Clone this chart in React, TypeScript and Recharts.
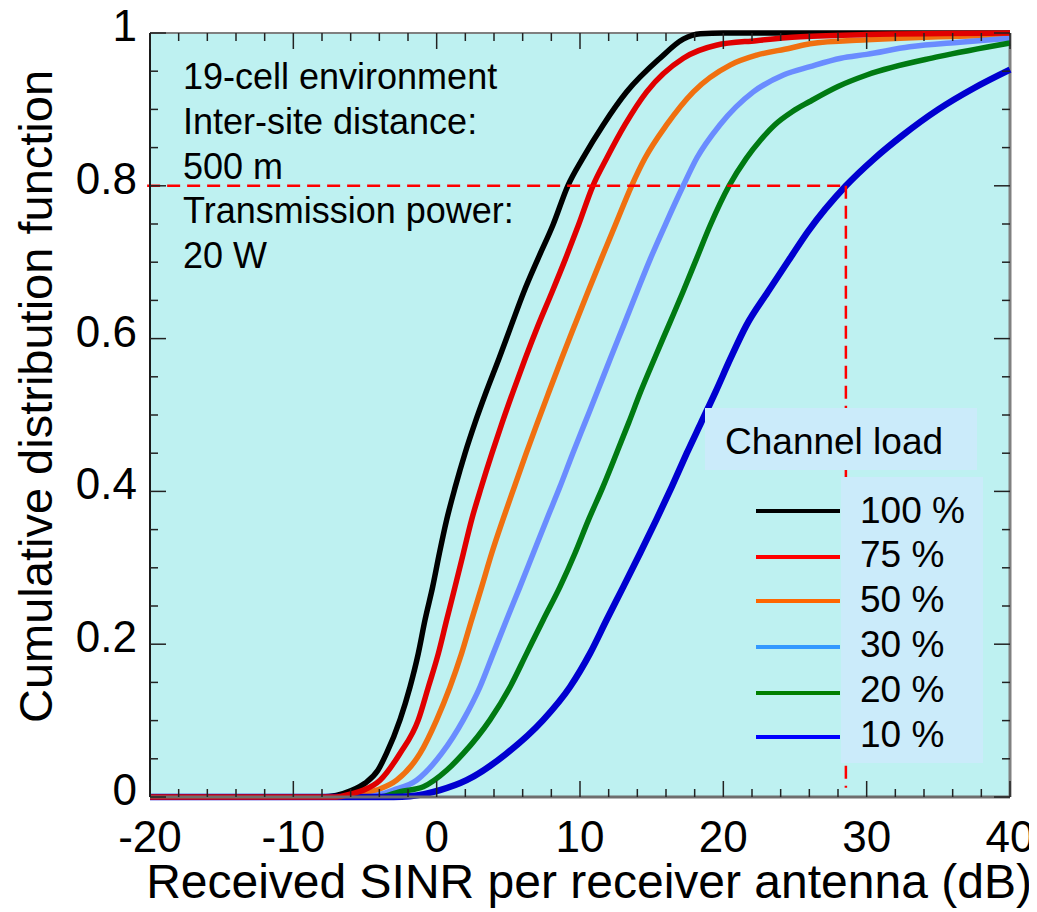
import React from 'react';
import { LineChart, Line, XAxis, YAxis, ReferenceLine, CartesianGrid } from 'recharts';

// ---- data ----
const SINR_100 = [-20, -8, -7, -6, -5, -4.1, -3.5, -2.56, -1.86, -1.28, -0.81, -0.28, 0.19, 0.7, 1.3, 1.98, 2.68, 3.45, 4.35, 5.2, 6.08, 7.08, 8.12, 9.15, 10.19, 11.63, 13.26, 15.58, 17.2, 18.4, 20, 40];
const CDF_100 = [0, 0, 0.002, 0.008, 0.018, 0.035, 0.057, 0.101, 0.144, 0.188, 0.232, 0.275, 0.319, 0.363, 0.406, 0.45, 0.49, 0.53, 0.574, 0.617, 0.661, 0.705, 0.749, 0.8, 0.836, 0.88, 0.923, 0.967, 0.992, 0.999, 1, 1];

const SINR_75 = [-20, -7, -6, -5.1, -3.95, -2.56, -1.28, -0.58, 0.12, 0.7, 1.28, 1.86, 2.44, 3.12, 3.86, 4.57, 5.32, 6.18, 7.07, 8.05, 9.0, 9.9, 10.9, 11.86, 13.14, 14.65, 17.21, 19.5, 22.3, 25.4, 30, 40];
const CDF_75 = [0, 0, 0.004, 0.009, 0.022, 0.057, 0.101, 0.144, 0.188, 0.232, 0.275, 0.319, 0.363, 0.406, 0.45, 0.49, 0.53, 0.574, 0.617, 0.661, 0.705, 0.749, 0.8, 0.836, 0.88, 0.923, 0.967, 0.984, 0.99, 0.995, 0.998, 1];

const SINR_50 = [-20, -6, -5, -4.19, -2.79, -1.16, 0, 0.93, 1.74, 2.44, 3.14, 3.84, 4.62, 5.42, 6.25, 7.03, 7.83, 8.72, 9.62, 10.55, 11.5, 12.47, 13.6, 14.53, 16.05, 17.91, 20.47, 22.33, 24.65, 26.05, 30, 35, 40];
const CDF_50 = [0, 0, 0.004, 0.009, 0.022, 0.057, 0.101, 0.144, 0.188, 0.232, 0.275, 0.319, 0.363, 0.406, 0.45, 0.49, 0.53, 0.574, 0.617, 0.661, 0.705, 0.749, 0.8, 0.836, 0.88, 0.923, 0.958, 0.971, 0.98, 0.986, 0.991, 0.995, 0.997];

const SINR_30 = [-20, -5, -4, -3.02, -1.4, 0.35, 1.86, 3.02, 3.95, 4.88, 5.81, 6.74, 7.67, 8.6, 9.5, 10.35, 11.2, 12.12, 13.04, 13.97, 14.92, 15.95, 17.2, 18.14, 19.77, 22.09, 24.19, 26.05, 28.2, 30, 33, 36.5, 40];
const CDF_30 = [0, 0, 0.003, 0.009, 0.022, 0.057, 0.101, 0.144, 0.188, 0.232, 0.275, 0.319, 0.363, 0.406, 0.45, 0.49, 0.53, 0.574, 0.617, 0.661, 0.705, 0.749, 0.8, 0.836, 0.88, 0.923, 0.945, 0.956, 0.967, 0.972, 0.982, 0.988, 0.993];

const SINR_20 = [-20, -4, -2.56, -0.93, 0.7, 1.86, 3.72, 5.12, 6.28, 7.44, 8.6, 9.65, 10.6, 11.6, 12.55, 13.4, 14.22, 15.2, 16.18, 17.18, 18.14, 19.1, 20.4, 21.6, 22.6, 23.6, 24.8, 26.0, 28, 30, 35, 40];
const CDF_20 = [0, 0, 0.007, 0.0135, 0.035, 0.057, 0.101, 0.144, 0.188, 0.232, 0.275, 0.319, 0.363, 0.406, 0.45, 0.49, 0.53, 0.574, 0.617, 0.661, 0.705, 0.749, 0.8, 0.836, 0.86, 0.88, 0.897, 0.91, 0.93, 0.945, 0.969, 0.987];

const SINR_10 = [-20, -3, -1.86, 0.23, 2.09, 4.88, 7.44, 9.3, 10.7, 11.86, 13.02, 14.19, 15.33, 16.4, 17.45, 18.45, 19.45, 20.5, 21.6, 23.1, 24.65, 25.9, 28.55, 30.5, 32.5, 35, 37.5, 40];
const CDF_10 = [0, 0, 0.001, 0.009, 0.022, 0.057, 0.101, 0.144, 0.188, 0.232, 0.275, 0.319, 0.363, 0.406, 0.45, 0.49, 0.53, 0.574, 0.617, 0.661, 0.705, 0.74, 0.8, 0.835, 0.866, 0.9, 0.928, 0.952];

const SERIES_NAMES = ['100 %', '75 %', '50 %', '30 %', '20 %', '10 %'];
const SERIES_SINR = [SINR_100, SINR_75, SINR_50, SINR_30, SINR_20, SINR_10];
const SERIES_CDF = [CDF_100, CDF_75, CDF_50, CDF_30, CDF_20, CDF_10];
const LINE_COLORS = ['#000000', '#E00000', '#F07010', '#6A8CFF', '#007A12', '#0000D0'];
const LEGEND_COLORS = ['#000000', '#FF0000', '#FF6600', '#3399FF', '#008000', '#0000FF'];
const LINE_WIDTHS = [5.5, 5.5, 5.5, 5.5, 5.5, 6.5];
const DRAW_ORDER = [0, 2, 3, 4, 5, 1];

const X_TICKS = [-20, -18, -16, -14, -12, -10, -8, -6, -4, -2, 0, 2, 4, 6, 8, 10, 12, 14, 16, 18, 20, 22, 24, 26, 28, 30, 32, 34, 36, 38, 40];
const X_LABELS = [-20, -10, 0, 10, 20, 30, 40];
const Y_TICKS = [0, 0.05, 0.1, 0.15, 0.2, 0.25, 0.3, 0.35, 0.4, 0.45, 0.5, 0.55, 0.6, 0.65, 0.7, 0.75, 0.8, 0.85, 0.9, 0.95, 1];
const Y_LABELS = [0, 0.2, 0.4, 0.6, 0.8, 1];

const THRESHOLD_CDF = 0.8;
const THRESHOLD_SINR = 28.55;

const ANNOTATION = ['19-cell environment', 'Inter-site distance:', '500 m', 'Transmission power:', '20 W'];
const LEGEND_TITLE = 'Channel load';
const X_TITLE = 'Received SINR per receiver antenna (dB)';
const Y_TITLE = 'Cumulative distribution function';

// ---- layout ----
const W = 1037;
const H = 912;
const PLOT_LEFT = 150;
const PLOT_TOP = 33;
const PLOT_RIGHT = 1010;
const PLOT_BOTTOM = 797;
const PLOT_W = PLOT_RIGHT - PLOT_LEFT;
const PLOT_H = PLOT_BOTTOM - PLOT_TOP;
const FONT = '"Liberation Sans", Arial, Helvetica, sans-serif';
const BG = '#BEF1F1';
const BOX = '#CBEBFA';

const XTick = (props: any) => {
  const { x, y, payload } = props;
  const v = payload.value;
  const major = X_LABELS.includes(v);
  const len = major ? 16 : 8;
  return (
    <g>
      <line x1={x} y1={y} x2={x} y2={y - len} stroke="#222" strokeWidth={1.5} />
      <line x1={x} y1={y - PLOT_H} x2={x} y2={y - PLOT_H + len} stroke="#222" strokeWidth={1.5} />
      {major && (
        <text x={x} y={y + 55} textAnchor="middle" fontSize={44} fontFamily={FONT} fill="#000">
          {String(v)}
        </text>
      )}
    </g>
  );
};

const YTick = (props: any) => {
  const { x, y, payload } = props;
  const v = payload.value;
  const major = Y_LABELS.includes(v);
  const len = major ? 16 : 8;
  return (
    <g>
      <line x1={x} y1={y} x2={x + len} y2={y} stroke="#222" strokeWidth={1.5} />
      <line x1={x + PLOT_W} y1={y} x2={x + PLOT_W - len} y2={y} stroke="#222" strokeWidth={1.5} />
      {major && (
        <text x={x - 13} y={y + 8} textAnchor="end" fontSize={44} fontFamily={FONT} fill="#000">
          {String(v)}
        </text>
      )}
    </g>
  );
};

const LEGEND_LINE_Y = [511, 557, 601, 647, 693, 737];
const LEGEND_TEXT_Y = [523, 567, 612, 657, 702, 747];

export default function App() {
  return (
    <div style={{ position: 'relative', width: W, height: H, margin: '-8px 0 0 -8px', background: '#fff' }}>
      <LineChart
        width={W}
        height={H}
        margin={{ top: PLOT_TOP, right: W - PLOT_RIGHT, bottom: 0, left: 0 }}
      >
        <CartesianGrid fill={BG} stroke="none" horizontal={false} vertical={false} />
        <XAxis
          type="number"
          dataKey="x"
          domain={[-20, 40]}
          ticks={X_TICKS}
          interval={0}
          height={H - PLOT_BOTTOM}
          tickSize={0}
          tickMargin={0}
          tickLine={false}
          axisLine={{ stroke: '#6E6E6E', strokeWidth: 3 }}
          tick={(p: any) => <XTick {...p} />}
        />
        <YAxis
          type="number"
          domain={[0, 1]}
          ticks={Y_TICKS}
          interval={0}
          width={PLOT_LEFT}
          tickSize={0}
          tickMargin={0}
          tickLine={false}
          axisLine={{ stroke: '#1A1A1A', strokeWidth: 2 }}
          tick={(p: any) => <YTick {...p} />}
        />
        <ReferenceLine y={1} stroke="#808080" strokeWidth={2} />
        <ReferenceLine x={40} stroke="#808080" strokeWidth={3} />
        {DRAW_ORDER.map((i) => (
          <Line
            key={SERIES_NAMES[i]}
            name={SERIES_NAMES[i]}
            data={SERIES_SINR[i].map((s, k) => ({ x: s, y: SERIES_CDF[i][k] }))}
            dataKey="y"
            type="monotone"
            stroke={LINE_COLORS[i]}
            strokeWidth={LINE_WIDTHS[i]}
            dot={false}
            activeDot={false}
            isAnimationActive={false}
            strokeLinejoin="round"
          />
        ))}
        <ReferenceLine
          segment={[{ x: -20.2, y: THRESHOLD_CDF }, { x: THRESHOLD_SINR, y: THRESHOLD_CDF }]}
          stroke="#FF0000"
          strokeWidth={2.5}
          strokeDasharray="13 7"
          ifOverflow="visible"
        />
        <ReferenceLine
          segment={[{ x: THRESHOLD_SINR, y: THRESHOLD_CDF }, { x: THRESHOLD_SINR, y: 0.012 }]}
          stroke="#FF0000"
          strokeWidth={2.5}
          strokeDasharray="13 7"
          ifOverflow="visible"
        />
      </LineChart>
      <svg
        width={W}
        height={H}
        style={{ position: 'absolute', left: 0, top: 0, pointerEvents: 'none' }}
      >
        <line x1={53} y1={1} x2={W} y2={1} stroke="#B4B4B4" strokeWidth={2} />
        {ANNOTATION.map((t, i) => (
          <text key={t} x={183} y={89 + i * 44.75} fontSize={36} fontFamily={FONT} fill="#000">
            {t}
          </text>
        ))}
        <rect x={705} y={408} width={272} height={62} fill={BOX} />
        <text x={725} y={454} fontSize={37} fontFamily={FONT} fill="#000">
          {LEGEND_TITLE}
        </text>
        <rect x={841} y={477} width={142} height={286} fill={BOX} />
        {SERIES_NAMES.map((n, i) => (
          <g key={n}>
            <line x1={756} y1={LEGEND_LINE_Y[i]} x2={840} y2={LEGEND_LINE_Y[i]} stroke={LEGEND_COLORS[i]} strokeWidth={4} />
            <text x={860} y={LEGEND_TEXT_Y[i]} fontSize={37} fontFamily={FONT} fill="#000">
              {n}
            </text>
          </g>
        ))}
        <text x={589} y={898} textAnchor="middle" fontSize={48} fontFamily={FONT} fill="#000">
          {X_TITLE}
        </text>
        <text
          x={0}
          y={0}
          transform="translate(52 396.5) rotate(-90)"
          textAnchor="middle"
          fontSize={47}
          fontFamily={FONT}
          fill="#000"
        >
          {Y_TITLE}
        </text>
      </svg>
    </div>
  );
}
